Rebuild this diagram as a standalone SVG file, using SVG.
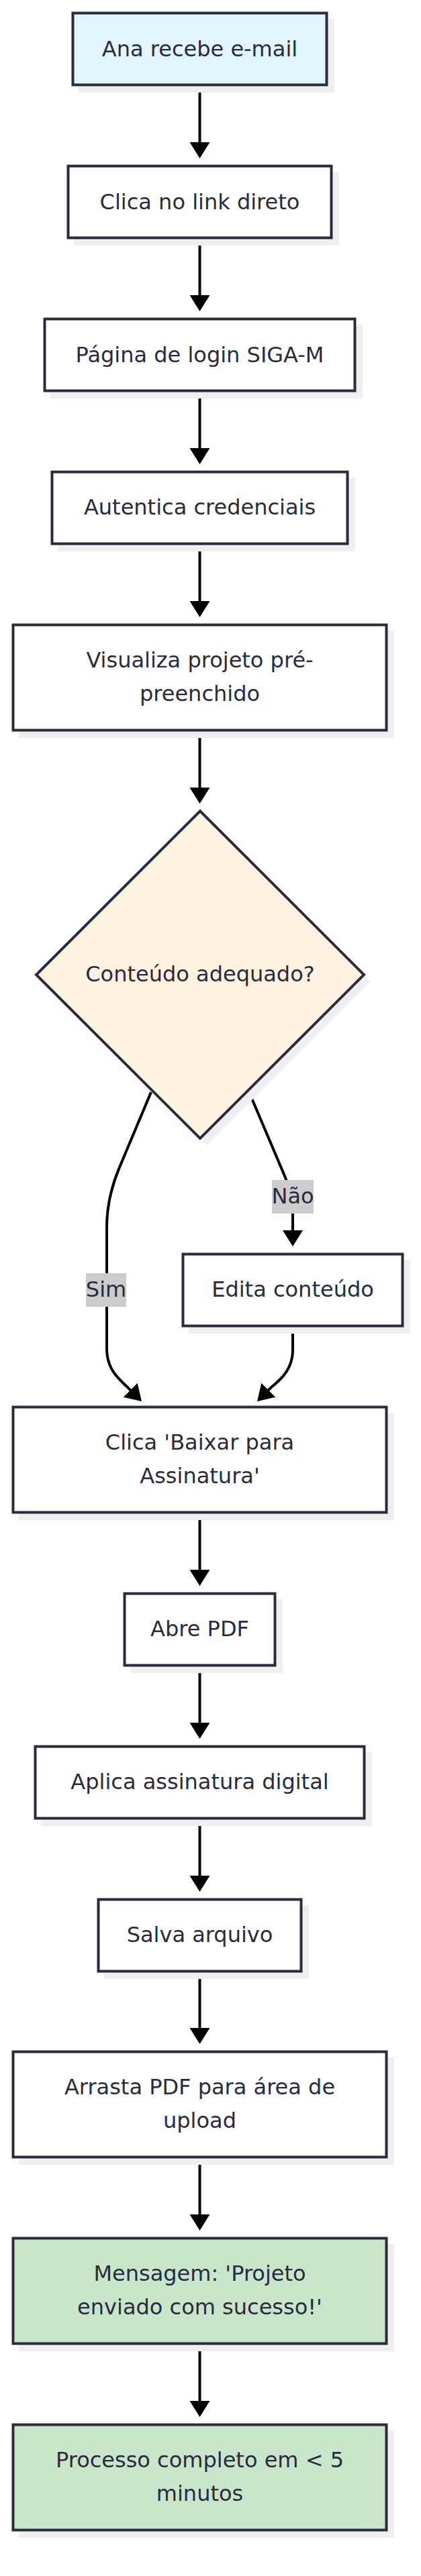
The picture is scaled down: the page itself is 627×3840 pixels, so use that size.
<svg xmlns="http://www.w3.org/2000/svg" width="627" height="3840" viewBox="0 0 627 3840">
<defs>
<style>
.sh{fill:#efefef;stroke:none}
.nd{fill:#ffffff;stroke:#2a2b3e;stroke-width:4}
.start{fill:#e1f5fe}
.dec{fill:#fff3e0}
.ok{fill:#c8e6c9}
.t{font-family:"DejaVu Sans","Noto Sans",sans-serif;font-size:32px;fill:#2a2b3e;text-anchor:middle}
.e{fill:none;stroke:#000;stroke-width:4;marker-end:url(#arr)}
.lb{fill:#cccccc}
</style>
<marker id="arr" viewBox="0 0 24 30" refX="12" refY="15" markerWidth="24" markerHeight="30" markerUnits="userSpaceOnUse" orient="auto">
<path d="M0,0 L24,15 L0,30 z" fill="#000"/>
</marker>
</defs>
<rect width="627" height="3840" fill="#ffffff"/>

<g id="connectors">
<path class="e" d="M297.5,127 L297.5,224"/>
<path class="e" d="M297.5,355 L297.5,452"/>
<path class="e" d="M297.5,583 L297.5,680"/>
<path class="e" d="M297.5,811 L297.5,908"/>
<path class="e" d="M297.5,1090 L297.5,1186"/>
<path class="e" d="M225,1628 L178,1740 Q159,1785 159,1830 L159,2010 C159,2040 175,2054 189,2067 L202.5,2080.5"/>
<path class="e" d="M371,1628 L424,1753 Q436,1781 436,1805 L436,1846"/>
<path class="e" d="M436,1978 L436,2012 C436,2040 420,2055 404,2068 L391.5,2080.5"/>
<path class="e" d="M297.5,2256 L297.5,2352"/>
<path class="e" d="M297.5,2483 L297.5,2580"/>
<path class="e" d="M297.5,2711 L297.5,2808"/>
<path class="e" d="M297.5,2939 L297.5,3035"/>
<path class="e" d="M297.5,3217 L297.5,3313"/>
<path class="e" d="M297.5,3495 L297.5,3591"/>
<g id="label-sim">
<rect class="lb" x="128" y="1898" width="60" height="50"/>
<text class="t" x="158" y="1933">Sim</text>
</g>
<g id="label-nao">
<rect class="lb" x="405" y="1759" width="62" height="50"/>
<text class="t" x="436" y="1794">Não</text>
</g>
</g>

<g id="n1">
<rect class="sh" x="117" y="28" width="381" height="110"/>
<rect class="nd start" x="108.5" y="19.5" width="378" height="107"/>
<text class="t" x="297.5" y="84">Ana recebe e-mail</text>
</g>
<g id="n2">
<rect class="sh" x="110" y="256" width="395" height="110"/>
<rect class="nd" x="101.5" y="247.5" width="392" height="107"/>
<text class="t" x="297.5" y="312">Clica no link direto</text>
</g>
<g id="n3">
<rect class="sh" x="75" y="484" width="465" height="110"/>
<rect class="nd" x="66.5" y="475.5" width="462" height="107"/>
<text class="t" x="297.5" y="540">Página de login SIGA-M</text>
</g>
<g id="n4">
<rect class="sh" x="86" y="712" width="443" height="110"/>
<rect class="nd" x="77.5" y="703.5" width="440" height="107"/>
<text class="t" x="297.5" y="767">Autentica credenciais</text>
</g>
<g id="n5">
<rect class="sh" x="28" y="940" width="559" height="160"/>
<rect class="nd" x="19.5" y="931.5" width="556" height="157"/>
<text class="t" x="297.5" y="995">Visualiza projeto pré-</text>
<text class="t" x="297.5" y="1045">preenchido</text>
</g>
<g id="n6">
<polygon class="sh" points="308,1219 552,1463 308,1707 64,1463"/>
<polygon class="nd dec" points="298,1209 542,1453 298,1697 54,1453"/>
<text class="t" x="298" y="1463">Conteúdo adequado?</text>
</g>
<g id="n7">
<rect class="sh" x="281" y="1878" width="330" height="110"/>
<rect class="nd" x="272.5" y="1869.5" width="327" height="107"/>
<text class="t" x="436" y="1933">Edita conteúdo</text>
</g>
<g id="n8">
<rect class="sh" x="28" y="2106" width="559" height="160"/>
<rect class="nd" x="19.5" y="2097.5" width="556" height="157"/>
<text class="t" x="297.5" y="2161">Clica 'Baixar para</text>
<text class="t" x="297.5" y="2211">Assinatura'</text>
</g>
<g id="n9">
<rect class="sh" x="194" y="2384" width="227" height="110"/>
<rect class="nd" x="185.5" y="2375.5" width="224" height="107"/>
<text class="t" x="297.5" y="2439">Abre PDF</text>
</g>
<g id="n10">
<rect class="sh" x="61" y="2612" width="493" height="110"/>
<rect class="nd" x="52.5" y="2603.5" width="490" height="107"/>
<text class="t" x="297.5" y="2667">Aplica assinatura digital</text>
</g>
<g id="n11">
<rect class="sh" x="155" y="2840" width="305" height="110"/>
<rect class="nd" x="146.5" y="2831.5" width="302" height="107"/>
<text class="t" x="297.5" y="2895">Salva arquivo</text>
</g>
<g id="n12">
<rect class="sh" x="28" y="3067" width="559" height="160"/>
<rect class="nd" x="19.5" y="3058.5" width="556" height="157"/>
<text class="t" x="297.5" y="3122">Arrasta PDF para área de</text>
<text class="t" x="297.5" y="3172">upload</text>
</g>
<g id="n13">
<rect class="sh" x="28" y="3345" width="559" height="160"/>
<rect class="nd ok" x="19.5" y="3336.5" width="556" height="157"/>
<text class="t" x="297.5" y="3400">Mensagem: 'Projeto</text>
<text class="t" x="297.5" y="3450">enviado com sucesso!'</text>
</g>
<g id="n14">
<rect class="sh" x="28" y="3623" width="559" height="160"/>
<rect class="nd ok" x="19.5" y="3614.5" width="556" height="157"/>
<text class="t" x="297.5" y="3678">Processo completo em &lt; 5</text>
<text class="t" x="297.5" y="3728">minutos</text>
</g>
</svg>
